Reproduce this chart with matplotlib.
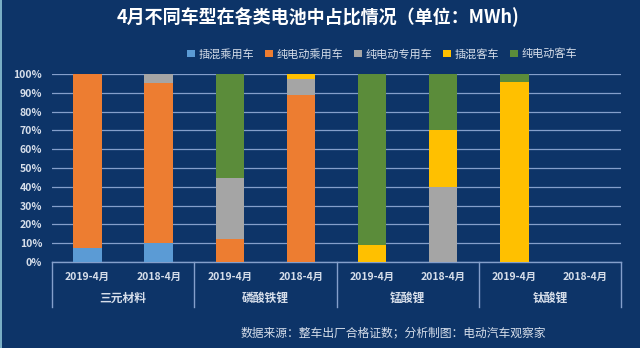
import matplotlib
import matplotlib.pyplot as plt
from matplotlib.patches import Patch
import numpy as np

matplotlib.use("Agg")

plt.rcParams["font.family"] = ["Noto Sans CJK SC", "DejaVu Sans"]

BG = "#0D3468"
GRID = "#849FCB"
TEXT = "#D6DEEA"

groups = ["三元材料", "磷酸铁锂", "锰酸锂", "钛酸锂"]
periods = ["2019-4月", "2018-4月"]
series = ["插混乘用车", "纯电动乘用车", "纯电动专用车", "插混客车", "纯电动客车"]
colors = ["#5B9BD5", "#ED7D31", "#A5A5A5", "#FFC000", "#5B8C3A"]

# share (%) per bar: 三元 19/18, 磷酸铁锂 19/18, 锰酸锂 19/18, 钛酸锂 19/18
phev_car = [7.5, 10, 0, 0, 0, 0, 0, 0]
bev_car = [92.5, 85, 12.5, 89, 0, 0, 0, 0]
bev_special = [0, 5, 32, 8.5, 0, 40, 0, 0]
phev_bus = [0, 0, 0, 2.5, 9, 30, 95.5, 0]
bev_bus = [0, 0, 55.5, 0, 91, 30, 4.5, 0]
values = [phev_car, bev_car, bev_special, phev_bus, bev_bus]

fig = plt.figure(figsize=(6.4, 3.48), dpi=100, facecolor=BG)
ax = fig.add_axes([52 / 640, 86 / 348, 569 / 640, 188 / 348], facecolor=BG)

x = np.arange(len(groups) * len(periods))
bottom = np.zeros(len(x))
for name, vals, c in zip(series, values, colors):
    v = np.array(vals, dtype=float)
    ax.bar(x, v, 0.4, bottom=bottom, color=c, label=name, zorder=3)
    bottom += v

ax.set_xlim(-0.5, len(x) - 0.5)
ax.set_ylim(0, 100)
ax.set_yticks(np.arange(0, 101, 10))
ax.set_yticklabels([f"{t}%" for t in range(0, 101, 10)])
ax.tick_params(axis="y", length=0, pad=7, labelsize=7.5, labelcolor=TEXT)
ax.set_xticks([])
for lbl in ax.get_yticklabels():
    lbl.set_fontweight("bold")
ax.grid(axis="y", color=GRID, linewidth=0.9, zorder=0)
for s in ["top", "right", "left"]:
    ax.spines[s].set_visible(False)
ax.spines["bottom"].set_color(GRID)
ax.spines["bottom"].set_linewidth(1.0)

# two-level category axis drawn by hand
tr = ax.get_xaxis_transform()
for i, xi in enumerate(x):
    ax.text(xi, -15 / 188, periods[i % 2], transform=tr, ha="center", va="center",
            fontsize=7.5, fontweight="bold", color=TEXT)
for g, name in enumerate(groups):
    ax.text(2 * g + 0.5, -36 / 188, name, transform=tr, ha="center", va="center",
            fontsize=8.5, fontweight="bold", color=TEXT)
for sep in np.arange(-0.5, len(x), 2):
    ax.plot([sep, sep], [0, -45 / 188], transform=tr, color=GRID, linewidth=1.0,
            clip_on=False)

fig.text(0.497, 0.951, "4月不同车型在各类电池中占比情况（单位：MWh)", ha="center",
         va="center", fontsize=13, fontweight="bold", color="white")

handles = [Patch(facecolor=c, label=n) for n, c in zip(series, colors)]
fig.legend(handles=handles, loc="center", bbox_to_anchor=(0.597, 0.845), ncol=5,
           frameon=False, fontsize=8, labelcolor=TEXT, handlelength=0.7,
           handleheight=0.7, handletextpad=0.3, columnspacing=1.0)

fig.text(0.614, 0.043, "数据来源：整车出厂合格证数；分析制图：电动汽车观察家", ha="center",
         va="center", fontsize=8.5, color=TEXT)

# thin light edge on the left side
fig.add_artist(plt.Line2D([0.001, 0.001], [0, 1], transform=fig.transFigure,
                          color="#8FC7D8", linewidth=1.2))

fig.savefig("out.png", dpi=100, facecolor=BG)
